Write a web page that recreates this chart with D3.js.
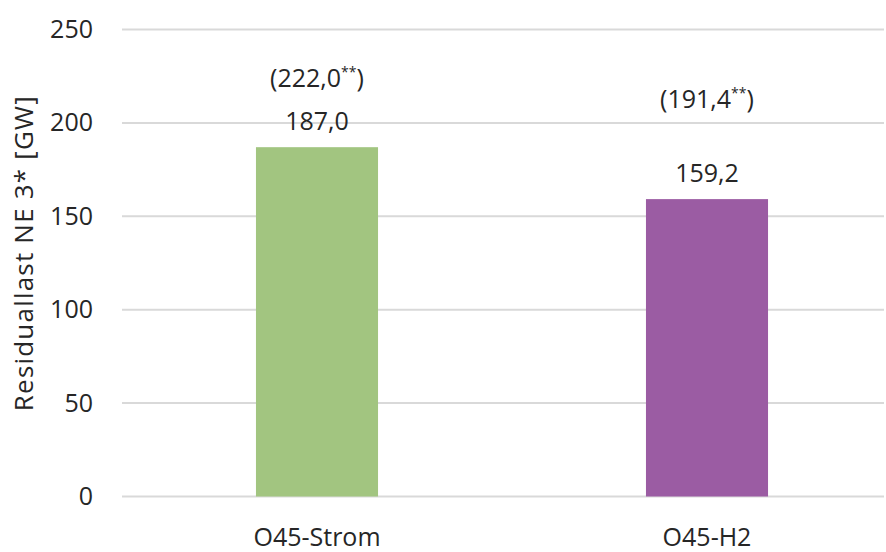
<!DOCTYPE html>
<html>
<head>
<meta charset="utf-8">
<script src="https://cdn.jsdelivr.net/npm/d3@7"></script>
<style>
  body { margin: 0; background: #fff; }
  svg text { font-family: "Open Sans", "Noto Sans", sans-serif; fill: #262626; }
</style>
</head>
<body>
<div id="chart"></div>
<script>
// chart data
const categories = ["O45-Strom", "O45-H2"];
const values = [187.0, 159.2];
const valueLabels = ["187,0", "159,2"];
const altValues = ["222,0", "191,4"]; // shown in brackets with **
const barColors = ["#a2c580", "#9b5ca3"];
const yTicks = [0, 50, 100, 150, 200, 250];

const width = 886, height = 552;
const margin = { top: 29, left: 122, bottom: 55 };
const fontSize = 25;

const svg = d3
  .select("#chart")
  .append("svg")
  .attr("width", width)
  .attr("height", height);

// scales
const xScale = d3
  .scaleBand()
  .domain(categories)
  .range([margin.left, 902]);

const yScale = d3
  .scaleLinear()
  .domain([0, 250])
  .range([height - margin.bottom - 0.5, margin.top + 0.5]);

const barWidth = xScale.bandwidth() * 0.313;

// gridlines
svg
  .append("g")
  .selectAll("line")
  .data(yTicks)
  .enter()
  .append("line")
  .attr("x1", margin.left)
  .attr("x2", 884)
  .attr("y1", (d) => yScale(d))
  .attr("y2", (d) => yScale(d))
  .attr("stroke", "#d9d9d9")
  .attr("stroke-width", 2);

// y axis labels
const yAxis = svg
  .append("g")
  .attr("transform", `translate(${margin.left - 29},0)`)
  .call(d3.axisLeft(yScale).tickValues(yTicks).tickSize(0).tickPadding(0));
yAxis.select(".domain").remove();
yAxis
  .selectAll("text")
  .attr("font-size", fontSize)
  .attr("font-family", null)
  .attr("fill", null);

// x axis labels
const xAxis = svg
  .append("g")
  .attr("transform", `translate(0,${yScale(0)})`)
  .call(d3.axisBottom(xScale).tickSize(0).tickPadding(32));
xAxis.select(".domain").remove();
xAxis
  .selectAll("text")
  .attr("font-size", fontSize)
  .attr("font-family", null)
  .attr("fill", null);

// bars
svg
  .append("g")
  .selectAll("rect")
  .data(values)
  .enter()
  .append("rect")
  .attr("x", (d, i) => xScale(categories[i]) + (xScale.bandwidth() - barWidth) / 2)
  .attr("width", barWidth)
  .attr("y", (d) => yScale(d))
  .attr("height", (d) => yScale(0) - yScale(d))
  .attr("fill", (d, i) => barColors[i]);

// value labels
svg
  .append("g")
  .selectAll("text")
  .data(values)
  .enter()
  .append("text")
  .attr("x", (d, i) => xScale(categories[i]) + xScale.bandwidth() / 2)
  .attr("y", (d) => yScale(d) - 17)
  .attr("text-anchor", "middle")
  .attr("font-size", fontSize)
  .text((d, i) => valueLabels[i]);

// bracket labels, lifted above the value label
const bracketOffset = [60, 91];
const bracket = svg
  .append("g")
  .selectAll("text")
  .data(values)
  .enter()
  .append("text")
  .attr("x", (d, i) => xScale(categories[i]) + xScale.bandwidth() / 2)
  .attr("y", (d, i) => yScale(d) - bracketOffset[i])
  .attr("text-anchor", "middle")
  .attr("font-size", fontSize);
bracket.append("tspan").text((d, i) => "(" + altValues[i]);
bracket
  .append("tspan")
  .attr("font-size", 14)
  .attr("dy", -10)
  .text("**");
bracket
  .append("tspan")
  .attr("dy", 10)
  .text(")");

// y axis title
svg
  .append("text")
  .attr("transform", `translate(33,${yScale(130)}) rotate(-90)`)
  .attr("text-anchor", "middle")
  .attr("font-size", 26)
  .attr("textLength", 315)
  .attr("lengthAdjust", "spacing")
  .text("Residuallast NE 3* [GW]");
</script>
</body>
</html>
